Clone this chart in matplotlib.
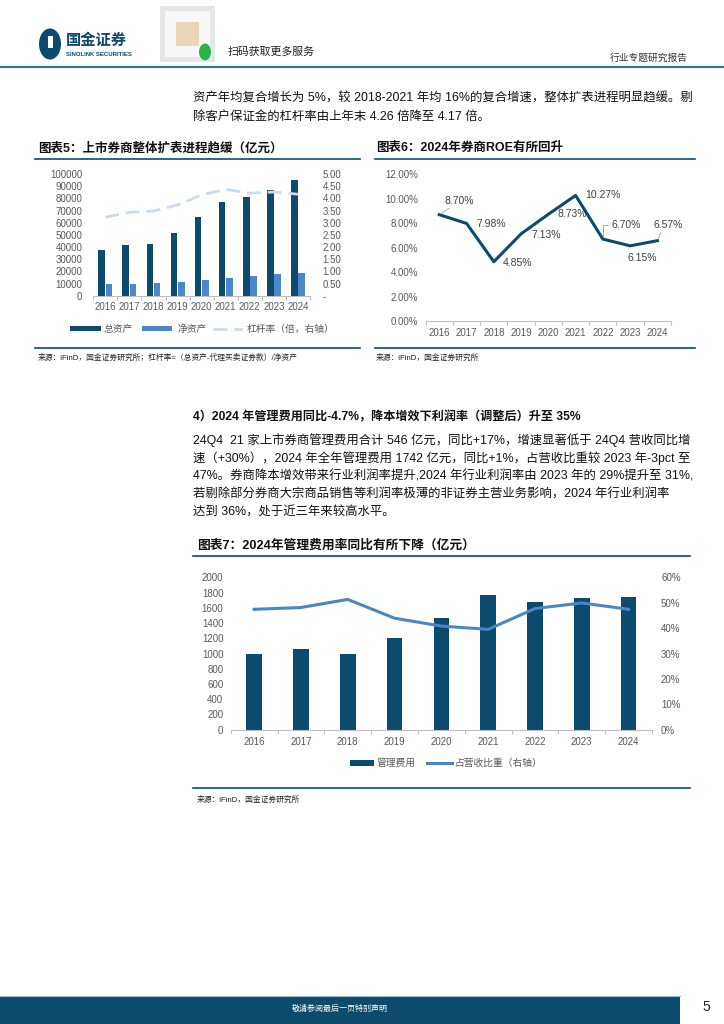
import matplotlib
matplotlib.use('Agg')
import matplotlib.pyplot as plt
import numpy as np
from matplotlib.patches import Rectangle, Circle
from matplotlib.lines import Line2D

# CJK text falls back to Noto Sans CJK
plt.rcParams['font.family'] = ['Liberation Sans', 'Noto Sans CJK SC']

W, H = 724, 1024
NAVY = '#0c4a6e'
MID = '#4a86c8'
LIGHT = '#c9ddf0'
GRAY = '#595959'

years = ['2016', '2017', '2018', '2019', '2020', '2021', '2022', '2023', '2024']

# chart 5: total / net assets (100m yuan) and leverage
total_assets = [37500, 41400, 42200, 51300, 64400, 77300, 80800, 86900, 95000]
net_assets = [9400, 9900, 10700, 11500, 12900, 14500, 16200, 17600, 18400]
leverage = [3.22, 3.43, 3.48, 3.73, 4.14, 4.37, 4.21, 4.26, 4.17]

# chart 6: ROE (%)
roe = [8.70, 7.98, 4.85, 7.13, 8.73, 10.27, 6.70, 6.15, 6.57]

# chart 7: management cost (100m yuan) and share of revenue (%)
mgmt_cost = [998, 1059, 998, 1203, 1466, 1764, 1681, 1729, 1742]
cost_ratio = [47.4, 48.1, 51.3, 43.9, 40.8, 39.5, 47.7, 49.9, 47.4]

fig = plt.figure(figsize=(7.24, 10.24), dpi=100)


def px_axes(x0, y0, x1, y1):
    return fig.add_axes([x0 / W, 1 - y1 / H, (x1 - x0) / W, (y1 - y0) / H])


def ftext(x, y, s, **kw):
    kw.setdefault('va', 'center')
    return fig.text(x / W, 1 - y / H, s, **kw)


def hline(x0, x1, y, color=NAVY, lw=1.0):
    fig.add_artist(Line2D([x0 / W, x1 / W], [1 - y / H, 1 - y / H], color=color, lw=lw))


def frect(x0, y0, x1, y1, color, **kw):
    fig.add_artist(Rectangle((x0 / W, 1 - y1 / H), (x1 - x0) / W, (y1 - y0) / H,
                             facecolor=color, edgecolor='none', transform=fig.transFigure, **kw))


def style_axis(ax, lpad):
    for s in ['top', 'left', 'right']:
        ax.spines[s].set_visible(False)
    ax.spines['bottom'].set_color('#bfbfbf')
    ax.spines['bottom'].set_linewidth(0.8)
    ax.set_xlim(-0.5, len(years) - 0.5)
    ax.set_xticks(np.arange(len(years)))
    ax.set_xticklabels(years)
    ax.set_xticks(np.arange(-0.5, len(years), 1), minor=True)
    ax.tick_params(axis='x', which='major', length=0, pad=4.5, labelsize=7, labelcolor=GRAY)
    ax.tick_params(axis='x', which='minor', length=3, color='#bfbfbf', width=0.8)
    ax.tick_params(axis='y', length=0, pad=lpad, labelsize=7, labelcolor=GRAY)


# ---------------- page header ----------------
fig.add_artist(Circle((50 / W, 1 - 44 / H), 11 / W, facecolor=NAVY, edgecolor='none',
                      transform=fig.transFigure))
frect(48, 36, 53, 48, 'white')
ftext(66, 41, '国金证券', fontsize=11, fontweight='bold', color=NAVY)
ftext(66, 55, 'SINOLINK SECURITIES', fontsize=4.3, fontweight='bold', color=NAVY)
frect(160, 6, 215, 62, '#e6e6e6')
frect(165, 11, 210, 57, '#f7f7f7')
frect(176, 22, 199, 46, '#e9d7b8')
fig.add_artist(Circle((205 / W, 1 - 52 / H), 6 / W, facecolor='#2db34a', edgecolor='none',
                      transform=fig.transFigure))
ftext(228, 52, '扫码获取更多服务', fontsize=7.8, color='#222222')
ftext(688, 58, '行业专题研究报告', fontsize=7, color='#333333', ha='right')
hline(0, 724, 67, color='#3d7098', lw=1.6)

# body text
BODY = 8.9
ftext(193, 99, '资产年均复合增长为 5%，较 2018-2021 年均 16%的复合增速，整体扩表进程明显趋缓。剔',
      fontsize=BODY, color='#111111')
ftext(193, 117, '除客户保证金的杠杆率由上年末 4.26 倍降至 4.17 倍。', fontsize=BODY, color='#111111')

# ---------------- chart 5 ----------------
ftext(38, 148, '图表5：上市券商整体扩表进程趋缓（亿元）', fontsize=9, fontweight='bold', color='#111111')
hline(35, 360, 159, lw=1.2)
hline(35, 360, 348, lw=1.2)
ftext(38, 358, '来源：iFinD，国金证券研究所；杠杆率=（总资产-代理买卖证券款）/净资产',
      fontsize=5.6, color='#222222')

ax5 = px_axes(93.3, 174, 310, 295.7)
x = np.arange(len(years))
ax5.bar(x - 0.15, total_assets, 0.28, color=NAVY)
ax5.bar(x + 0.15, net_assets, 0.28, color=MID)
ax5.set_ylim(0, 100000)
ax5.set_yticks(np.arange(0, 100001, 10000))
ax5.set_yticklabels([str(v) for v in range(0, 100001, 10000)])
style_axis(ax5, 7.9)
ax5r = ax5.twinx()
ax5r.plot(x, leverage, color=LIGHT, lw=2, dashes=(5, 2.5))
ax5r.set_ylim(0, 5)
ax5r.set_yticks(np.arange(0, 5.01, 0.5))
ax5r.set_yticklabels(['-'] + ['%.2f' % v for v in np.arange(0.5, 5.01, 0.5)])
for s in ['top', 'left', 'right', 'bottom']:
    ax5r.spines[s].set_visible(False)
ax5r.tick_params(axis='y', length=0, pad=9, labelsize=7, labelcolor=GRAY)

# legend 5
frect(70, 326, 101, 331, NAVY)
ftext(104, 329, '总资产', fontsize=7, color=GRAY)
frect(142, 326, 172, 331, MID)
ftext(178, 329, '净资产', fontsize=7, color=GRAY)
fig.add_artist(Line2D([213 / W, 242 / W], [1 - 329 / H] * 2, color=LIGHT, lw=2, dashes=(5, 2.5)))
ftext(247, 329, '杠杆率（倍，右轴）', fontsize=7, color=GRAY)

# ---------------- chart 6 ----------------
ftext(376, 148, '图表6：2024年券商ROE有所回升', fontsize=9, fontweight='bold', color='#111111')
hline(375, 695, 159, lw=1.2)
hline(375, 695, 348, lw=1.2)
ftext(376, 358, '来源：iFinD，国金证券研究所', fontsize=5.6, color='#222222')

ax6 = px_axes(425.7, 174.3, 671, 321)
ax6.plot(x, roe, color=NAVY, lw=2.2)
ax6.set_ylim(0, 12)
ax6.set_yticks(np.arange(0, 12.01, 2))
ax6.set_yticklabels(['%.2f%%' % v for v in np.arange(0, 12.01, 2)])
style_axis(ax6, 5.5)
ax6.tick_params(axis='x', which='major', pad=5)

# label offsets in pixels: dx, dy, leader style
offs = [(5, 14, 'up'), (9.5, -1, None), (9, -1, None), (10, -1, None), (9, 0, None),
        (10, 0, None), (9, 14, 'bend'), (-3, -12, None), (-4, 16, 'up')]
for i, (v, (dx, dy, lead)) in enumerate(zip(roe, offs)):
    kw = dict(textcoords='offset pixels', fontsize=7.5, color='#404040', ha='left', va='center')
    if lead == 'up':
        kw['arrowprops'] = dict(arrowstyle='-', color='#a6a6a6', lw=0.7, shrinkA=0, shrinkB=2,
                                relpos=(0.3, 0))
    elif lead == 'bend':
        kw['arrowprops'] = dict(arrowstyle='-', color='#a6a6a6', lw=0.7, shrinkA=1, shrinkB=2,
                                relpos=(0, 0.5), connectionstyle='angle,angleA=180,angleB=90,rad=0')
    ax6.annotate('%.2f%%' % v, xy=(i, v), xytext=(dx, dy), **kw)

# ---------------- section 4 text ----------------
ftext(193, 417, '4）2024 年管理费用同比-4.7%，降本增效下利润率（调整后）升至 35%',
      fontsize=8.7, fontweight='bold', color='#111111')
para = [
    '24Q4  21 家上市券商管理费用合计 546 亿元，同比+17%，增速显著低于 24Q4 营收同比增',
    '速（+30%），2024 年全年管理费用 1742 亿元，同比+1%，占营收比重较 2023 年-3pct 至',
    '47%。券商降本增效带来行业利润率提升,2024 年行业利润率由 2023 年的 29%提升至 31%,',
    '若剔除部分券商大宗商品销售等利润率极薄的非证券主营业务影响，2024 年行业利润率',
    '达到 36%，处于近三年来较高水平。',
]
for k, line in enumerate(para):
    ftext(193, 440 + k * 18.2, line, fontsize=BODY, color='#111111')

# ---------------- chart 7 ----------------
ftext(197, 545, '图表7：2024年管理费用率同比有所下降（亿元）', fontsize=9.2, fontweight='bold', color='#111111')
hline(193, 690, 556, lw=1.2)
hline(193, 690, 788, lw=1.2)
ftext(197, 800, '来源：iFinD，国金证券研究所', fontsize=5.6, color='#222222')

ax7 = px_axes(230.7, 577.3, 652, 729.7)
ax7.bar(x, mgmt_cost, 0.335, color=NAVY)
ax7.set_ylim(0, 2000)
ax7.set_yticks(np.arange(0, 2001, 200))
style_axis(ax7, 5.3)
ax7.tick_params(axis='x', which='major', pad=5)
ax7r = ax7.twinx()
ax7r.plot(x, cost_ratio, color=MID, lw=2.2)
ax7r.set_ylim(0, 60)
ax7r.set_yticks(np.arange(0, 61, 10))
ax7r.set_yticklabels(['%d%%' % v for v in range(0, 61, 10)])
for s in ['top', 'left', 'right', 'bottom']:
    ax7r.spines[s].set_visible(False)
ax7r.tick_params(axis='y', length=0, pad=6.5, labelsize=7, labelcolor=GRAY)

# legend 7
frect(350, 760, 374, 766, NAVY)
ftext(377, 763, '管理费用', fontsize=7, color=GRAY)
fig.add_artist(Line2D([427 / W, 452 / W], [1 - 763 / H] * 2, color=MID, lw=2.2))
ftext(455, 763, '占营收比重（右轴）', fontsize=7, color=GRAY)

# ---------------- footer ----------------
frect(0, 996, 680, 1024, NAVY)
hline(0, 680, 996, color='#9cb8cf', lw=0.8)
ftext(340, 1009, '敬请参阅最后一页特别声明', fontsize=5.8, color='white', ha='center')
ftext(706, 1007, '5', fontsize=10, color='#222222', ha='center')

fig.savefig('out.png', dpi=100)
